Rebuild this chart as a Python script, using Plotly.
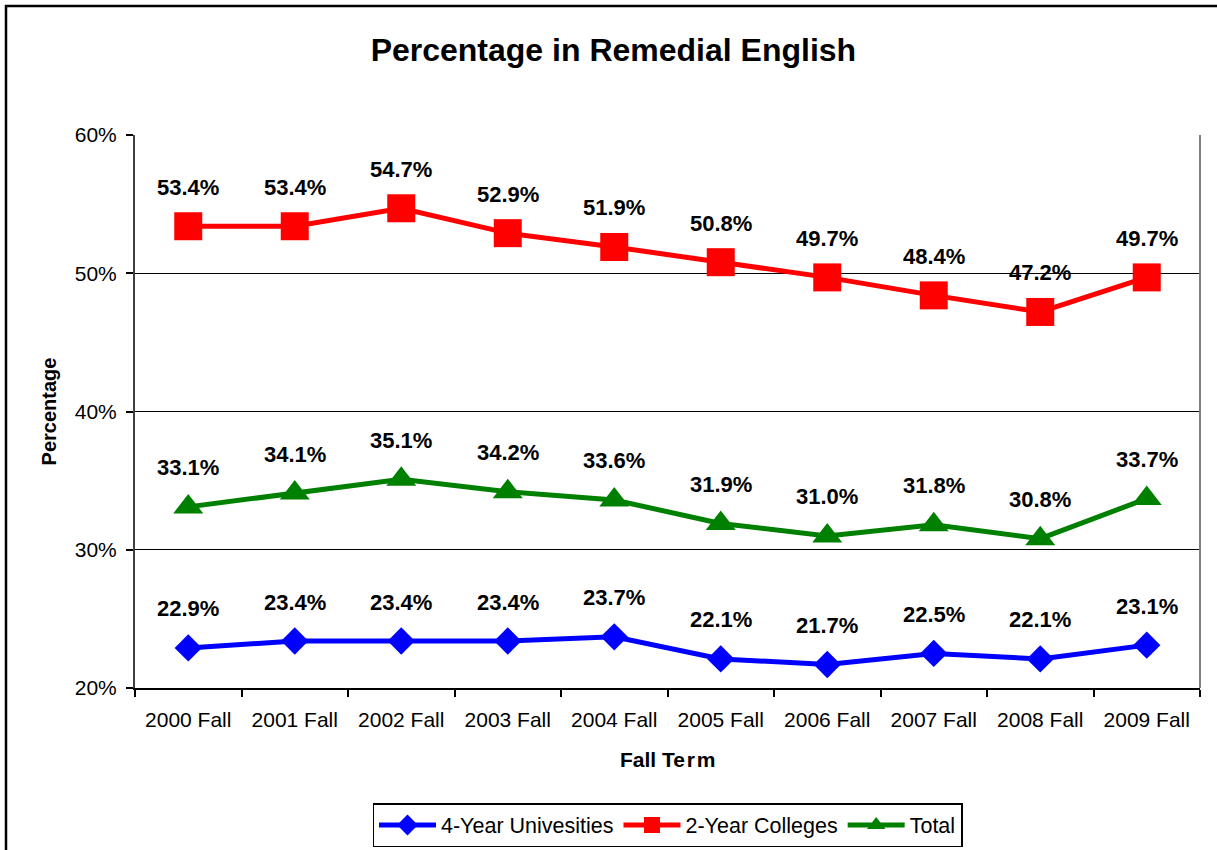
import plotly.graph_objects as go

categories = ["2000 Fall", "2001 Fall", "2002 Fall", "2003 Fall", "2004 Fall",
              "2005 Fall", "2006 Fall", "2007 Fall", "2008 Fall", "2009 Fall"]
univ4 = [22.9, 23.4, 23.4, 23.4, 23.7, 22.1, 21.7, 22.5, 22.1, 23.1]
coll2 = [53.4, 53.4, 54.7, 52.9, 51.9, 50.8, 49.7, 48.4, 47.2, 49.7]
total = [33.1, 34.1, 35.1, 34.2, 33.6, 31.9, 31.0, 31.8, 30.8, 33.7]

series = [
    ("4-Year Univesities", univ4, "#0000FF", "diamond", 21),
    ("2-Year Colleges", coll2, "#FF0000", "square", 28),
    ("Total", total, "#008000", "triangle-up", 26),
]

FONT = "Liberation Sans, Arial, sans-serif"
fig = go.Figure()
annotations = []
for name, vals, color, sym, size in series:
    fig.add_trace(go.Scatter(
        x=categories, y=vals, name=name, mode="lines+markers",
        line=dict(color=color, width=5),
        marker=dict(symbol=sym, size=size, color=color),
        cliponaxis=False,
    ))
    for c, v in zip(categories, vals):
        annotations.append(dict(
            x=c, y=v, xref="x", yref="y", text=f"{v:.1f}%", showarrow=False,
            yshift=39, font=dict(family=FONT, size=22, color="black", weight="bold"),
        ))

annotations.append(dict(
    x=0.5, y=-0.13, xref="paper", yref="paper", text="Fall Te\u200ar\u200am", yanchor="middle",
    showarrow=False, font=dict(family=FONT, size=21, color="black", weight="bold"),
))

fig.update_layout(
    width=1217, height=850,
    margin=dict(l=135, r=17, t=135, b=162, autoexpand=False),
    paper_bgcolor="white", plot_bgcolor="white",
    title=dict(text="<b>Percentage in Remedial English</b>", x=0.504, xanchor="center",
               y=1 - 50 / 850, yanchor="middle",
               font=dict(family=FONT, size=32, color="black")),
    font=dict(family=FONT, size=21, color="black"),
    showlegend=True,
    legend=dict(orientation="h", x=0.5, xanchor="center", y=-0.208, yanchor="top",
                bordercolor="black", borderwidth=1.5, font=dict(size=21.5),
                itemwidth=57, tracegroupgap=0),
    annotations=annotations,
    shapes=[dict(type="rect", xref="paper", yref="paper", x0=-129/1065, x1=1.2,
                 y0=-0.5, y1=1 + 129/553, line=dict(color="black", width=2.5),
                 layer="below"),
            dict(type="line", xref="paper", yref="paper", x0=1, x1=1, y0=0, y1=1,
                 line=dict(color="#808080", width=2))],
    xaxis=dict(type="category", range=[-0.5, 9.5], tickson="boundaries",
               ticks="outside", ticklen=7, tickcolor="black", tickwidth=1.5,
               showline=True, linecolor="black", linewidth=2, showgrid=False,
               tickfont=dict(size=21), zeroline=False, ticklabelstandoff=12),
    yaxis=dict(range=[20, 60], tickvals=[20, 30, 40, 50, 60],
               ticktext=["20%", "30%", "40%", "50%", "60%"],
               ticks="outside", ticklen=7, tickcolor="black", tickwidth=1.5,
               showline=True, linecolor="#404040", linewidth=2,
               showgrid=True, gridcolor="black", gridwidth=1, zeroline=False,
               tickfont=dict(size=21), ticklabelstandoff=5,
               title=dict(text="<b>Percentage</b>", font=dict(size=20), standoff=13)),
)

fig.write_html("out.html", config={"displayModeBar": False},
               post_script="document.body.style.margin='0';document.body.style.overflow='hidden';")
